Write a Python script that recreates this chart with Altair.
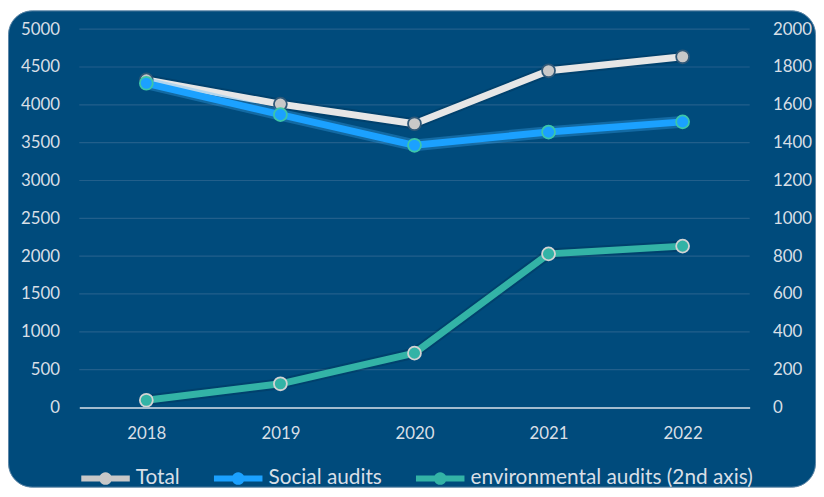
import altair as alt
import pandas as pd

years = ["2018", "2019", "2020", "2021", "2022"]
total = [4330, 4010, 3750, 4450, 4635]
social = [4285, 3870, 3465, 3640, 3775]
env = [38, 125, 287, 812, 853]
left_ticks = [0, 500, 1000, 1500, 2000, 2500, 3000, 3500, 4000, 4500, 5000]
right_ticks = [0, 200, 400, 600, 800, 1000, 1200, 1400, 1600, 1800, 2000]

names = ["Total", "Social audits", "environmental audits (2nd axis)"]
fill_range = ["#c8c8c8", "#1ba1ff", "#33b3a6"]

left_df = pd.DataFrame({
    "year": years * 2,
    "value": total + social,
    "series": [names[0]] * 5 + [names[1]] * 5,
})
env_df = pd.DataFrame({"year": years, "value": env, "series": [names[2]] * 5})
grid_df = pd.DataFrame({"value": left_ticks[1:]})

BG = "#004b7c"
LABEL = "#d8dfe6"
FONT = "Lato"

sym = ("M-1,-0.12 L-0.2307,-0.12 A0.26,0.26 0 0,1 0.2307,-0.12 L1,-0.12 "
       "L1,0.12 L0.2307,0.12 A0.26,0.26 0 0,1 -0.2307,0.12 L-1,0.12 Z")

legend = alt.Legend(
    title=None, orient="none", legendX=2, legendY=429, direction="horizontal",
    symbolType=sym, symbolSize=2400, symbolStrokeWidth=0, symbolOpacity=1,
    labelFontSize=21, labelColor=LABEL, labelFont=FONT, labelOffset=6,
    labelLimit=400, columnPadding=34, padding=0,
)

x_enc = alt.X("year:O", scale=alt.Scale(type="point", padding=0.5),
              axis=alt.Axis(title=None, labelAngle=0, labelPadding=18, ticks=False,
                            domainColor="#a3bccf", domainWidth=2, zindex=1,
                            labelColor=LABEL, labelFontSize=17, labelFont=FONT,
                            grid=False))

y_left = alt.Y("value:Q", scale=alt.Scale(domain=[0, 5000], nice=False),
               axis=alt.Axis(title=None, orient="left", values=left_ticks, format="d",
                             ticks=False, domain=False, labelPadding=20, zindex=1,
                             labelColor=LABEL, labelFontSize=17, labelFont=FONT,
                             grid=False))
y_right = alt.Y("value:Q", scale=alt.Scale(domain=[0, 2000], nice=False),
                axis=alt.Axis(title=None, orient="right", values=right_ticks, format="d",
                              ticks=False, domain=False, labelPadding=23, zindex=1,
                              labelColor=LABEL, labelFontSize=17, labelFont=FONT,
                              grid=False))

fill_enc = alt.Fill("series:N", scale=alt.Scale(domain=names, range=fill_range), legend=legend)


def series(df, name, y, line_color, pt_stroke, glow=None, shadow=True):
    base = alt.Chart(df).transform_filter(alt.datum.series == name)
    layers = []
    if shadow:
        layers.append(base.mark_line(color="#00233f", strokeWidth=11, opacity=0.25,
                                     strokeCap="round", strokeJoin="round")
                      .encode(x=x_enc, y=y))
    if glow:
        layers.append(base.mark_line(color=glow, strokeWidth=12, opacity=0.3,
                                     strokeCap="round", strokeJoin="round")
                      .encode(x=x_enc, y=y))
    layers.append(base.mark_line(color=line_color, strokeWidth=7, strokeJoin="round")
                  .encode(x=x_enc, y=y))
    layers.append(base.mark_point(filled=True, size=170, opacity=1, stroke=pt_stroke,
                                  strokeWidth=1.8, shape="circle")
                  .encode(x=x_enc, y=y, fill=fill_enc))
    return layers


grid = alt.Chart(grid_df).mark_rule(color="#225f8b", strokeWidth=1.2).encode(
    y=y_left, x=alt.value(0), x2=alt.value(677))

left = alt.layer(
    grid,
    *series(left_df, names[0], y_left, "#e6e6e6", "#2f5878"),
    *series(left_df, names[1], y_left, "#1ba1ff", "#3cc6a8", glow="#3fb2ff", shadow=False),
)
right = alt.layer(*series(env_df, names[2], y_right, "#33b3a6", "#d3d3d3"))

bg = alt.Chart(pd.DataFrame({"a": [0]})).mark_rect(
    fill=BG, cornerRadius=24, stroke="#5d86a6", strokeWidth=1
).encode(x=alt.value(-71.5), x2=alt.value(743.5), y=alt.value(-18.5), y2=alt.value(462.5))

chart = alt.layer(bg, left, right).resolve_scale(y="independent").properties(
    width=677, height=382,
    padding={"left": 72, "top": 19, "right": 67, "bottom": 82},
    autosize=alt.AutoSizeParams(type="none"),
).configure(background="white", font=FONT).configure_view(stroke=None)

chart.save("out.html", embed_options={"renderer": "svg", "actions": False})
